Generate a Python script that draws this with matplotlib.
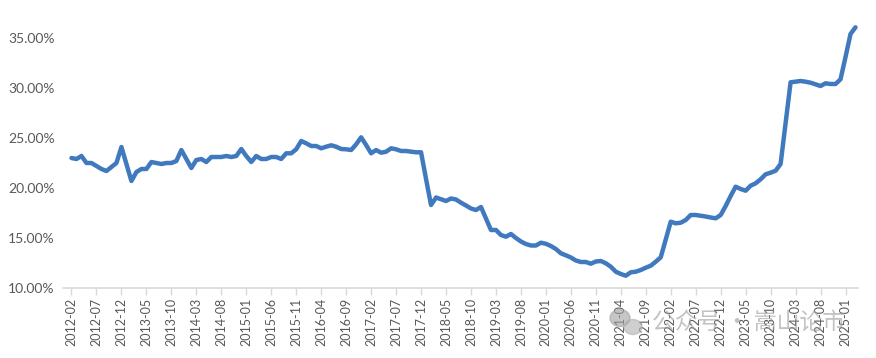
import matplotlib
matplotlib.use("Agg")
import matplotlib.pyplot as plt
import pandas as pd

# Monthly values (%), 2012-02 .. 2025-03
values = [
    23.0, 22.9, 23.2, 22.5, 22.5, 22.2, 21.9, 21.7, 22.1, 22.5,
    24.1, 22.4, 20.7, 21.6, 21.9, 21.9, 22.6, 22.5, 22.4, 22.5,
    22.5, 22.7, 23.8, 22.9, 22.0, 22.8, 22.9, 22.6, 23.1, 23.1,
    23.1, 23.2, 23.1, 23.2, 23.9, 23.2, 22.6, 23.2, 22.9, 22.9,
    23.1, 23.1, 22.9, 23.47, 23.47, 23.87, 24.7, 24.47, 24.2, 24.2,
    23.97, 24.13, 24.27, 24.13, 23.9, 23.87, 23.8, 24.37, 25.07, 24.3,
    23.47, 23.8, 23.53, 23.63, 23.97, 23.87, 23.7, 23.7, 23.63, 23.57,
    23.57, 20.9, 18.3, 19.05, 18.87, 18.7, 18.95, 18.85, 18.53, 18.25,
    17.95, 17.8, 18.1, 16.95, 15.8, 15.8, 15.3, 15.13, 15.4, 15.0,
    14.65, 14.4, 14.25, 14.25, 14.53, 14.42, 14.2, 13.9, 13.47, 13.27,
    13.05, 12.75, 12.6, 12.6, 12.43, 12.65, 12.7, 12.47, 12.13, 11.63,
    11.4, 11.23, 11.57, 11.63, 11.8, 12.03, 12.23, 12.63, 13.07, 14.85,
    16.63, 16.47, 16.53, 16.8, 17.3, 17.3, 17.23, 17.15, 17.05, 16.97,
    17.3, 18.2, 19.2, 20.13, 19.9, 19.73, 20.23, 20.47, 20.87, 21.37,
    21.53, 21.73, 22.4, 26.5, 30.57, 30.63, 30.7, 30.63, 30.53, 30.37,
    30.2, 30.47, 30.4, 30.4, 30.87, 33.1, 35.4, 36.07,
]
months = [p.strftime("%Y-%m") for p in pd.period_range("2012-02", periods=len(values), freq="M")]
tick_step = 5
y_ticks = [10, 15, 20, 25, 30, 35]
watermark = "公众号 · 嵩山论市"

plt.rcParams['font.family'] = ['Lato', 'DejaVu Sans']
fig = plt.figure(figsize=(8.76, 3.58), dpi=100)
ax = fig.add_axes([63/876, 1 - 288/358, (858 - 63)/876, (288 - 38)/358])

x = list(range(len(values)))
ax.plot(x, values, color='#4179BF', lw=3.2, solid_joinstyle='round',
        solid_capstyle='round', clip_on=False, zorder=3)

ax.set_xlim(-1.7, len(values) - 0.5)
ax.set_ylim(10, 35)
ax.set_yticks(y_ticks)
ax.set_yticklabels([f"{v:.2f}%" for v in y_ticks], color='#595959', fontsize=10)
tick_pos = list(range(0, len(values), tick_step))
ax.set_xticks(tick_pos)
ax.set_xticklabels([months[i] for i in tick_pos], rotation=90, color='#595959', fontsize=9)

for s in ['top', 'right', 'left']:
    ax.spines[s].set_visible(False)
ax.spines['bottom'].set_color('#D9D9D9')
ax.spines['bottom'].set_linewidth(1.2)
ax.tick_params(axis='y', length=0, pad=6)
ax.tick_params(axis='x', length=5, color='#D9D9D9', width=1, pad=2)

# watermark
fig.text(652/876, 1 - 322/358, watermark, family=['Noto Sans CJK SC', 'DejaVu Sans'],
         fontsize=16.5, color='#9a9a9a', alpha=0.6, va='center', ha='left')
fig.patches.append(matplotlib.patches.Ellipse((620/876, 1 - 318/358), 20/876, 17/358,
                   transform=fig.transFigure, color='#a0a0a0', alpha=0.6))
fig.patches.append(matplotlib.patches.Ellipse((633/876, 1 - 327/358), 18/876, 15/358,
                   transform=fig.transFigure, color='#b0b0b0', alpha=0.6))

fig.savefig("out.png", dpi=100)
